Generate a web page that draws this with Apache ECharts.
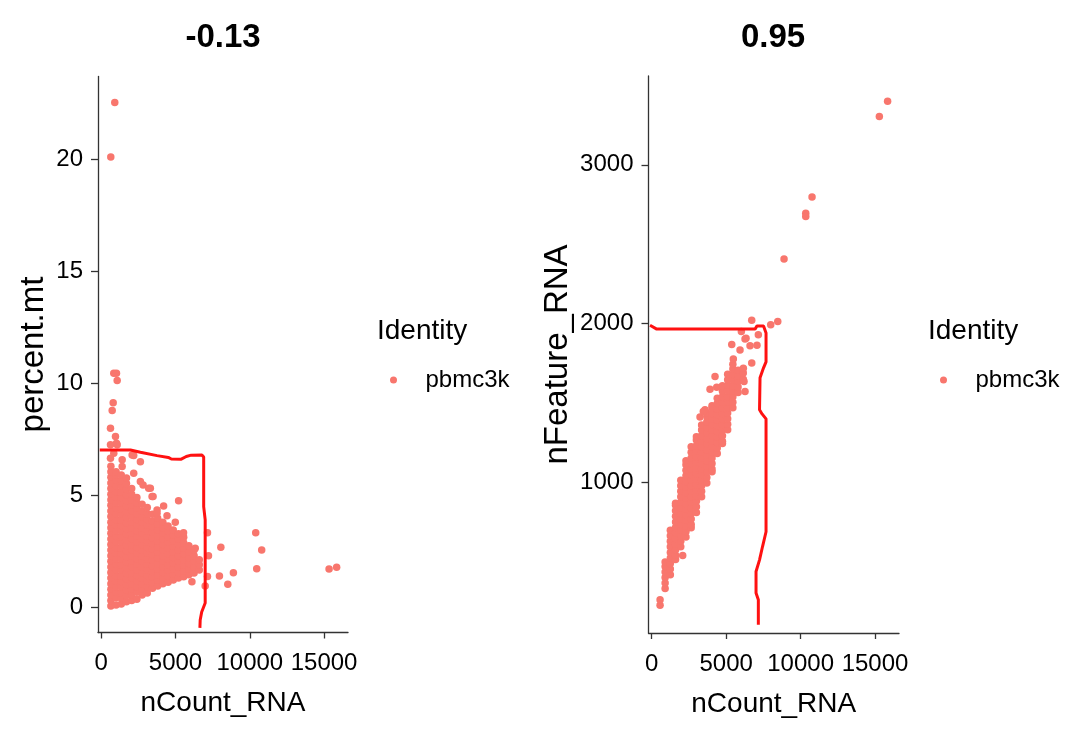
<!DOCTYPE html>
<html><head><meta charset="utf-8">
<script src="https://cdn.jsdelivr.net/npm/echarts@6/dist/echarts.min.js"></script>
<style>html,body{margin:0;padding:0;background:#fff}#c{width:1085px;height:735px}</style>
</head><body><div id="c"></div>
<script>
// ---------- data ----------
const titles = ['-0.13', '0.95'];
const xTicks = [0, 5000, 10000, 15000];
const yTicksLeft = [0, 5, 10, 15, 20];
const yTicksRight = [1000, 2000, 3000];
const legendTitle = 'Identity';
const seriesName = 'pbmc3k';

// left panel (nCount_RNA vs percent.mt): dense core, column x with its y values
const coreLeftX = [650, 1000, 1350, 1700, 2050, 2400, 2750, 3100, 3450, 3800, 4150, 4500, 4850, 5200, 5550, 5900, 6250, 6600];
const coreLeftY = [
  [0.05,0.3,0.55,0.8,1.05,1.3,1.55,1.8,2.05,2.3,2.55,2.8,3.05,3.3,3.55,3.8,4.05,4.3,4.55,4.8,5.05,5.3,5.55,5.8,6.05,6.3],
  [0.1,0.42,0.67,0.92,1.17,1.42,1.67,1.92,2.17,2.42,2.67,2.92,3.17,3.42,3.67,3.92,4.17,4.42,4.67,4.92,5.17,5.42,5.67,5.92,6.05],
  [0.15,0.4,0.65,0.9,1.15,1.4,1.65,1.9,2.15,2.4,2.65,2.9,3.15,3.4,3.65,3.9,4.15,4.4,4.65,4.9,5.15,5.4,5.65,5.9],
  [0.24,0.52,0.77,1.02,1.27,1.52,1.77,2.02,2.27,2.52,2.77,3.02,3.27,3.52,3.77,4.02,4.27,4.52,4.77,5.02,5.27,5.52,5.77],
  [0.3,0.55,0.8,1.05,1.3,1.55,1.8,2.05,2.3,2.55,2.8,3.05,3.3,3.55,3.8,4.05,4.3,4.55,4.8,5.05,5.3],
  [0.36,0.67,0.92,1.17,1.42,1.67,1.92,2.17,2.42,2.67,2.92,3.17,3.42,3.67,3.92,4.17,4.42,4.67,4.9],
  [0.55,0.8,1.05,1.3,1.55,1.8,2.05,2.3,2.55,2.8,3.05,3.3,3.55,3.8,4.05,4.3,4.6],
  [0.64,0.92,1.17,1.42,1.67,1.92,2.17,2.42,2.67,2.92,3.17,3.42,3.67,3.92,4.17,4.45],
  [0.85,1.1,1.35,1.6,1.85,2.1,2.35,2.6,2.85,3.1,3.35,3.6,3.85,4.15],
  [0.95,1.2,1.45,1.7,1.95,2.2,2.45,2.7,2.95,3.2,3.45,3.7,3.97],
  [1.05,1.3,1.55,1.8,2.05,2.3,2.55,2.8,3.05,3.3,3.55,3.8],
  [1.12,1.4,1.65,1.9,2.15,2.4,2.65,2.9,3.15,3.4,3.63],
  [1.22,1.47,1.72,1.97,2.22,2.47,2.72,2.97,3.22,3.45],
  [1.3,1.55,1.8,2.05,2.3,2.55,2.8,3.05,3.28],
  [1.36,1.63,1.88,2.13,2.38,2.63,2.88,3.13],
  [1.45,1.7,1.95,2.2,2.45,2.74],
  [1.53,1.8,2.05,2.3,2.56],
  [1.66,1.9,2.12]
];
const outLeft = [
  [912,22.54],[644,20.1],[846,10.45],[1026,10.45],[1073,10.12],[805,9.13],[738,8.78],[624,7.99],
  [959,7.62],[1026,7.32],[624,7.25],[1073,7.25],[845,6.88],[624,6.65],[2080,6.8],[2187,6.77],
  [2636,6.5],[1409,6.58],[1409,6.28],[2187,5.98],[2636,5.61],[2817,5.46],[3193,5.31],[3307,5.31],
  [3421,4.94],[3488,4.94],[5206,4.75],[4199,4.52],[3757,4.34],[3757,4.2],[4427,4.09],[4984,3.8],
  [5541,3.33],[6326,2.63],[6105,1.14],[7151,3.33],[7218,2.3],[7151,1.37],[6997,0.95],[8050,2.68],
  [7956,1.40],[8519,1.03],[8895,1.54],[10398,3.33],[10800,2.56],[10465,1.72],[15335,1.71],[15844,1.79]
];

// right panel (nCount_RNA vs nFeature_RNA)
const coreRightX = [560, 900, 1250, 1600, 1950, 2300, 2650, 3000, 3350, 3700, 4050, 4400, 4750, 5100, 5450, 5800, 6150];
const coreRightY = [
  [228,262],
  [332,367,402,437,472,500],
  [420,455,490,525,560,595,630,665,700],
  [515,542,577,612,647,682,717,752,787,822,857,870],
  [595,630,665,700,735,770,805,840,875,910,945,980,1015],
  [657,692,727,762,797,832,867,902,937,972,1007,1042,1077,1112,1137],
  [715,735,770,805,840,875,910,945,980,1015,1050,1085,1120,1155,1190,1225],
  [812,847,882,917,952,987,1022,1057,1092,1127,1162,1197,1232,1267,1288],
  [910,945,980,1015,1050,1085,1120,1155,1190,1225,1260,1295,1330,1362],
  [997,1032,1067,1102,1137,1172,1207,1242,1277,1312,1347,1382,1417,1439],
  [1068,1085,1120,1155,1190,1225,1260,1295,1330,1365,1400,1435,1470,1483],
  [1182,1217,1252,1287,1322,1357,1392,1427,1462,1497,1530],
  [1245,1260,1295,1330,1365,1400,1435,1470,1505,1540,1575,1610],
  [1332,1367,1402,1437,1472,1507,1542,1577,1612,1647,1682],
  [1470,1505,1540,1575,1610,1645,1680,1715,1745],
  [1567,1602,1637,1672,1707],
  [1650,1690]
];
const outRight = [
  [15844,3400],[15289,3304],[10768,2797],[10345,2696],[10345,2675],[8887,2408],[8464,2014],[7993,1993],
  [6717,2022],[7160,1930],[7070,1865],[6603,1861],[6334,1909],[6020,1951],[6267,1903],[5374,1869],
  [5931,1835],[5481,1777],[6717,1752],[6153,1720],[4252,1667],[3916,1588],[4366,1600],[6200,1636],
  [6267,1573],[3580,1458],[3244,1412],[3466,1447],[2080,540]
];

// hand-drawn red gates
const gateLeft = [[-100,7.02],[1966,7.02],[2636,6.92],[3757,6.77],[4515,6.69],[4716,6.62],[5387,6.61],[5722,6.73],[6058,6.79],[6775,6.80],[6896,6.71],[6896,4.49],[6997,3.90],[6997,0.19],[6762,-0.21],[6661,-0.57],[6641,-0.92]];
const gateRight = [[-114,1990],[336,1966],[6939,1966],[7073,1986],[7510,1986],[7678,1942],[7678,1760],[7510,1722],[7275,1659],[7241,1458],[7409,1432],[7678,1401],[7678,690],[7443,597],[7241,513],[7006,440],[7006,304],[7161,262],[7161,105]];

// axis extents (ggplot 5% expansion of data range)
const xRange = [-217, 16609];
const yRangeLeft = [-1.128, 23.697];
const yRangeRight = [52.6, 3559.4];

// ---------- build ----------
function buildPts(xs, ys, extra) {
  const out = [];
  xs.forEach((x, i) => ys[i].forEach(y => out.push([x, y])));
  return out.concat(extra);
}
const FONT = "'Liberation Sans', Arial, Helvetica, sans-serif";
const AX = '#333';
function xAxisDef(gi) {
  return {
    gridIndex: gi, type: 'value', min: xRange[0], max: xRange[1],
    name: 'nCount_RNA', nameLocation: 'middle', nameGap: 57,
    nameTextStyle: { fontSize: 28, color: '#000', fontFamily: FONT },
    axisLine: { show: true, onZero: false, lineStyle: { color: AX, width: 1.3 } },
    axisTick: { show: true, length: 6, lineStyle: { color: AX, width: 1.3 }, customValues: xTicks },
    axisLabel: { customValues: xTicks, fontSize: 24, color: '#000', margin: 19, fontFamily: FONT, formatter: v => String(v) },
    splitLine: { show: false }
  };
}
function yAxisDef(gi, name, rng, ticks, gap) {
  return {
    gridIndex: gi, type: 'value', min: rng[0], max: rng[1],
    name: name, nameLocation: 'middle', nameGap: gap,
    nameTextStyle: { fontSize: 33, color: '#000', fontFamily: FONT },
    axisLine: { show: true, onZero: false, lineStyle: { color: AX, width: 1.3 } },
    axisTick: { show: true, length: 7, lineStyle: { color: AX, width: 1.3 }, customValues: ticks },
    axisLabel: { customValues: ticks, fontSize: 24, color: '#000', margin: 15, fontFamily: FONT, formatter: v => String(v) },
    splitLine: { show: false }
  };
}
const pointStyle = { color: '#F8766D', opacity: 1 };
const gateStyle = { color: '#FF1111', width: 3 };
function legendDef(left) {
  return {
    data: [seriesName], left: left, top: 368, orient: 'vertical', padding: 0,
    itemWidth: 54, itemHeight: 7, icon: 'circle', selectedMode: false,
    textStyle: { fontSize: 24, color: '#000', fontFamily: FONT }
  };
}
function text(t, x, y, size, bold, align) {
  return { type: 'text', x: x, y: y, silent: true,
    style: { text: t, fill: '#000', font: (bold ? 'bold ' : '') + size + 'px ' + FONT, textAlign: align, textVerticalAlign: 'middle' } };
}

const chart = echarts.init(document.getElementById('c'));
chart.setOption({
  animation: false,
  backgroundColor: '#fff',
  grid: [
    { left: 98, top: 76.5, width: 250, height: 556 },
    { left: 648.5, top: 76, width: 250.5, height: 557 }
  ],
  xAxis: [xAxisDef(0), xAxisDef(1)],
  yAxis: [
    yAxisDef(0, 'percent.mt', yRangeLeft, yTicksLeft, 48),
    yAxisDef(1, 'nFeature_RNA', yRangeRight, yTicksRight, 74)
  ],
  legend: [legendDef(390), legendDef(940)],
  graphic: [
    text(titles[0], 223, 38, 33, true, 'center'),
    text(titles[1], 773, 38, 33, true, 'center'),
    text(legendTitle, 377, 331, 28, false, 'left'),
    text(legendTitle, 928, 331, 28, false, 'left')
  ],
  series: [
    { type: 'scatter', name: seriesName, xAxisIndex: 0, yAxisIndex: 0, symbolSize: 7.5,
      data: buildPts(coreLeftX, coreLeftY, outLeft), itemStyle: pointStyle, z: 2, silent: true },
    { type: 'scatter', name: seriesName, xAxisIndex: 1, yAxisIndex: 1, symbolSize: 7.5,
      data: buildPts(coreRightX, coreRightY, outRight), itemStyle: pointStyle, z: 2, silent: true },
    { type: 'line', name: 'gateL', xAxisIndex: 0, yAxisIndex: 0, data: gateLeft, symbol: 'none',
      lineStyle: gateStyle, z: 3, silent: true },
    { type: 'line', name: 'gateR', xAxisIndex: 1, yAxisIndex: 1, data: gateRight, symbol: 'none',
      lineStyle: gateStyle, z: 3, silent: true }
  ]
});
</script></body></html>
